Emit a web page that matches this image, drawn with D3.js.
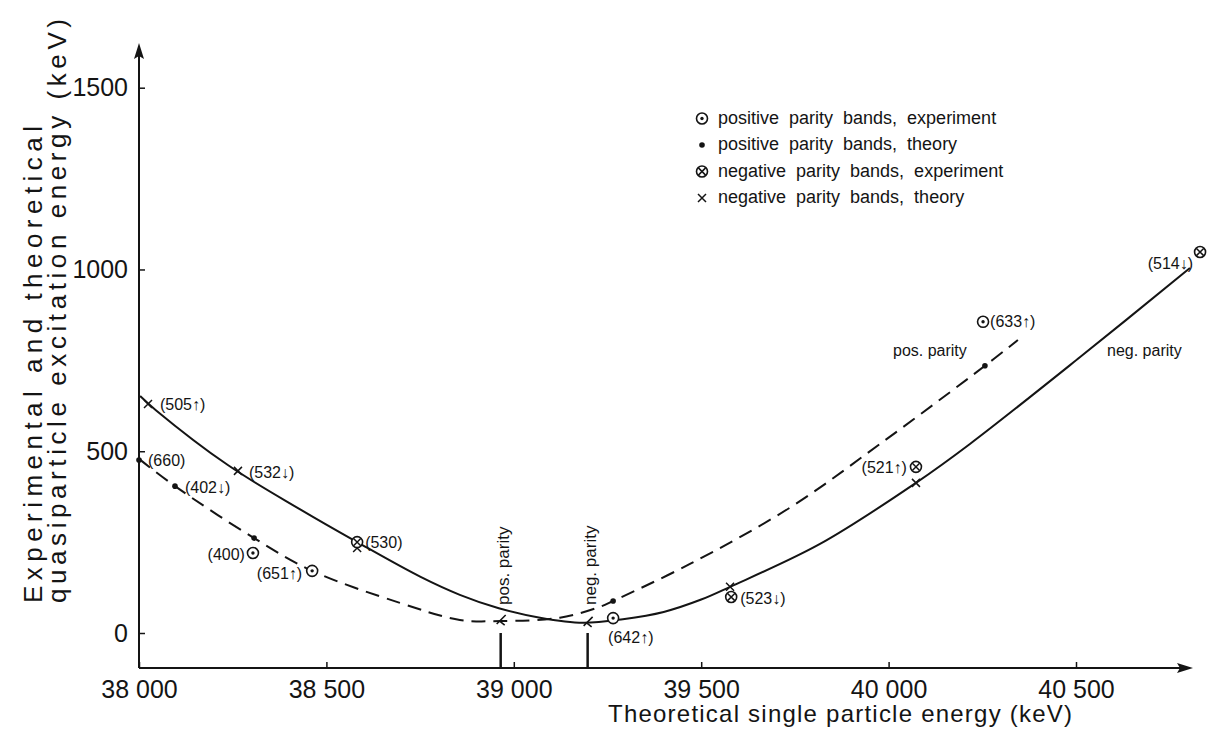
<!DOCTYPE html>
<html>
<head>
<meta charset="utf-8">
<script src="https://d3js.org/d3.v7.min.js"></script>
<style>
  body { margin: 0; background: #fff; }
  svg { font-family: "Liberation Sans", Arial, sans-serif; }
</style>
</head>
<body>
<svg id="chart" width="1208" height="732"></svg>
<script>
// ---- data (keV) ----
const xTicks = [38000, 38500, 39000, 39500, 40000, 40500];
const yTicks = [0, 500, 1000, 1500];

// smooth theory curves
const negCurveE = [38003, 38045, 38237, 38430, 38582, 38750, 38856, 38960, 39070, 39185, 39291, 39400, 39500, 39577, 39817, 40073, 40217, 40511, 40804];
const negCurveV = [652, 613, 462, 340, 250, 155, 105, 68, 42, 28, 38, 58, 92, 127, 245, 413, 520, 759, 1004];
const posCurveE = [38000, 38096, 38307, 38462, 38696, 38856, 38968, 39123, 39230, 39265, 39470, 39737, 39977, 40257, 40345];
const posCurveV = [479, 404, 261, 171, 83, 36, 33, 42, 72, 88, 190, 345, 520, 735, 806];

// negative parity bands, theory (x)
const negThE = [38024, 38264, 38582, 39577, 40073];
const negThV = [630, 446, 234, 127, 413];
const negThBand = ["(505↑)", "(532↓)", "", "", ""];
// negative parity bands, experiment
const negExpE = [38582, 39580, 40073, 40831];
const negExpV = [250, 99, 457, 1048];
const negExpBand = ["(530)", "(523↓)", "(521↑)", "(514↓)"];
// positive parity bands, theory (dot)
const posThE = [38000, 38096, 38307, 39265, 40257];
const posThV = [476, 404, 261, 88, 735];
const posThBand = ["(660)", "(402↓)", "", "", ""];
// positive parity bands, experiment
const posExpE = [38304, 38462, 39265, 40252];
const posExpV = [220, 171, 41, 856];
const posExpBand = ["(400)", "(651↑)", "(642↑)", "(633↑)"];

// Fermi level markers
const fermiE = [38965, 39197];
const fermiV = [33, 28];
const fermiLabel = ["pos. parity", "neg. parity"];

const legendText = [
  "positive parity bands, experiment",
  "positive parity bands, theory",
  "negative parity bands, experiment",
  "negative parity bands, theory"
];
const legendSym = ["posExp", "posTh", "negExp", "negTh"];

// ---- layout ----
const ink = "#141414";
const svg = d3.select("#chart");
const x = d3.scaleLinear().domain([38000, 40500]).range([139, 1076]);
const y = d3.scaleLinear().domain([0, 1500]).range([633, 87.7]);
const axisY = 668, axisRight = 1193, axisTop = 43;

// label offsets [dx, dy, anchor]
const labelPlace = {
  "(505↑)": [12, 0, "start"], "(532↓)": [11, 2, "start"], "(660)": [9, 0, "start"],
  "(402↓)": [10, 1, "start"], "(530)": [8, 0, "start"], "(400)": [-8, 1, "end"],
  "(651↑)": [-10, 3, "end"], "(642↑)": [-5, 19, "start"], "(523↓)": [9, 1, "start"],
  "(521↑)": [-9, 1, "end"], "(633↑)": [7, 0, "start"], "(514↓)": [-7, 11, "end"]
};

// ---- axes ----
const fmtX = d3.formatLocale({decimal: ".", thousands: " ", grouping: [3], currency: ["", ""]}).format(",");

const gx = svg.append("g").attr("transform", `translate(0,${axisY})`)
  .call(d3.axisBottom(x).tickValues(xTicks).tickFormat(fmtX).tickSizeInner(-6).tickSizeOuter(0).tickPadding(12));
gx.select(".domain").remove();
gx.attr("font-size", 25).attr("font-family", null);
gx.selectAll("line").attr("stroke", ink).attr("stroke-width", 1.5);
gx.selectAll("text").attr("fill", ink);

const gy = svg.append("g").attr("transform", `translate(${x(38000)},0)`)
  .call(d3.axisLeft(y).tickValues(yTicks).tickFormat(d3.format("d")).tickSizeInner(-6).tickSizeOuter(0).tickPadding(11));
gy.select(".domain").remove();
gy.attr("font-size", 25).attr("font-family", null);
gy.selectAll("line").attr("stroke", ink).attr("stroke-width", 1.5);
gy.selectAll("text").attr("fill", ink);

// axis lines with arrowheads
const x0 = x(38000);
svg.append("line").attr("x1", x0).attr("x2", axisRight - 4).attr("y1", axisY).attr("y2", axisY)
  .attr("stroke", ink).attr("stroke-width", 2);
svg.append("line").attr("x1", x0).attr("x2", x0).attr("y1", axisY).attr("y2", axisTop + 4)
  .attr("stroke", ink).attr("stroke-width", 2);
svg.append("path").attr("d", `M${axisRight},${axisY} L${axisRight - 16},${axisY - 5} L${axisRight - 13},${axisY} L${axisRight - 16},${axisY + 5} Z`)
  .attr("fill", ink);
svg.append("path").attr("d", `M${x0},${axisTop} L${x0 - 5},${axisTop + 16} L${x0},${axisTop + 13} L${x0 + 5},${axisTop + 16} Z`)
  .attr("fill", ink);

// axis titles
svg.append("text").attr("x", 608).attr("y", 722).attr("font-size", 24)
  .attr("textLength", 464).attr("lengthAdjust", "spacing").attr("fill", ink)
  .text("Theoretical single particle energy (keV)");
svg.append("text").attr("transform", "translate(42,603) rotate(-90)").attr("font-size", 26)
  .attr("textLength", 477).attr("lengthAdjust", "spacing").attr("fill", ink)
  .text("Experimental and theoretical");
svg.append("text").attr("transform", "translate(66,603) rotate(-90)").attr("font-size", 26)
  .attr("textLength", 584).attr("lengthAdjust", "spacing").attr("fill", ink)
  .text("quasiparticle excitation energy (keV)");

// ---- curves ----
const line = d3.line().x(d => x(d[0])).y(d => y(d[1])).curve(d3.curveCatmullRom.alpha(0.5));
svg.append("path").datum(d3.zip(negCurveE, negCurveV)).attr("d", line)
  .attr("fill", "none").attr("stroke", ink).attr("stroke-width", 2);
svg.append("path").datum(d3.zip(posCurveE, posCurveV)).attr("d", line)
  .attr("fill", "none").attr("stroke", ink).attr("stroke-width", 2).attr("stroke-dasharray", "14,8");

// Fermi level markers
fermiE.forEach((e, i) => {
  const px = x(e), py = y(fermiV[i]);
  svg.append("line").attr("x1", px).attr("x2", px).attr("y1", y(0)).attr("y2", axisY)
    .attr("stroke", ink).attr("stroke-width", 2.5);
  svg.append("path").attr("d", `M${px + 5},${py - 6} L${px - 4},${py + 3} M${px - 1},${py} L${px + 4},${py + 4}`)
    .attr("fill", "none").attr("stroke", ink).attr("stroke-width", 1.6);
  svg.append("text").attr("transform", `translate(${px + 8},605) rotate(-90)`)
    .attr("font-size", 17).attr("fill", ink).text(fermiLabel[i]);
});

// curve labels
svg.append("text").attr("x", 893).attr("y", 356).attr("font-size", 16).attr("fill", ink).text("pos. parity");
svg.append("text").attr("x", 1107).attr("y", 356).attr("font-size", 16).attr("fill", ink).text("neg. parity");

// ---- markers ----
function symbol(g, type, px, py) {
  if (type === "posExp" || type === "negExp") {
    g.append("circle").attr("cx", px).attr("cy", py).attr("r", 5.5)
      .attr("fill", "#fff").attr("stroke", ink).attr("stroke-width", 1.6);
    if (type === "posExp") {
      g.append("circle").attr("cx", px).attr("cy", py).attr("r", 1.7).attr("fill", ink);
    } else {
      const k = 3.6;
      g.append("path").attr("d", `M${px - k},${py - k} L${px + k},${py + k} M${px + k},${py - k} L${px - k},${py + k}`)
        .attr("stroke", ink).attr("stroke-width", 1.5);
    }
  } else if (type === "posTh") {
    g.append("circle").attr("cx", px).attr("cy", py).attr("r", 2.8).attr("fill", ink);
  } else {
    const k = 4;
    g.append("path").attr("d", `M${px - k},${py - k} L${px + k},${py + k} M${px + k},${py - k} L${px - k},${py + k}`)
      .attr("stroke", ink).attr("stroke-width", 1.5);
  }
}

const marks = svg.append("g");
const groups = [
  ["negTh", negThE, negThV, negThBand],
  ["posTh", posThE, posThV, posThBand],
  ["negExp", negExpE, negExpV, negExpBand],
  ["posExp", posExpE, posExpV, posExpBand]
];
groups.forEach(([type, es, vs, bands]) => {
  es.forEach((e, i) => {
    const px = x(e), py = y(vs[i]);
    symbol(marks, type, px, py);
    const b = bands[i];
    if (b) {
      const [dx, dy, anchor] = labelPlace[b];
      marks.append("text").attr("x", px + dx).attr("y", py + dy).attr("dy", "0.35em")
        .attr("text-anchor", anchor).attr("font-size", 16).attr("fill", ink).text(b);
    }
  });
});

// ---- legend ----
const leg = svg.append("g");
legendText.forEach((t, i) => {
  const ly = 118.5 + i * 26.5;
  symbol(leg, legendSym[i], 702, ly);
  leg.append("text").attr("x", 718).attr("y", ly + 5).attr("font-size", 18)
    .attr("word-spacing", 5).attr("fill", ink).text(t);
});
</script>
</body>
</html>
